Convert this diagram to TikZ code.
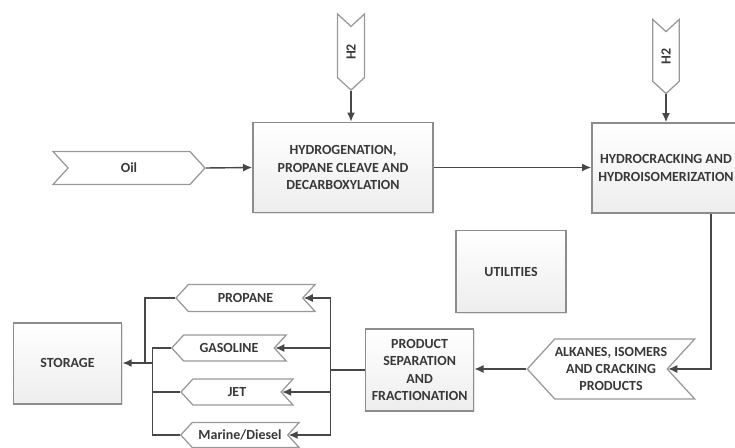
\documentclass[tikz,border=0pt]{standalone}
\usepackage{fontspec}
\setmainfont{Carlito}
\usetikzlibrary{arrows.meta, shapes.symbols, shadows}

\begin{document}
\begin{tikzpicture}[
  x=0.025cm, y=-0.025cm,
  font=\bfseries\fontsize{9.9}{12.3}\selectfont,
  bloc/.style={
    draw=black!45, line width=1.1pt, top color=white, bottom color=black!7,
    drop shadow={shadow xshift=0.8pt, shadow yshift=-0.8pt, opacity=0.2},
    align=center, text=black!78, inner sep=2pt
  },
  chevron/.style={
    signal, draw=black!40, line width=0.9pt, fill=white,
    signal pointer angle=95, align=center, text=black!78, inner sep=0pt
  },
  versdroite/.style={chevron, signal to=east, signal from=west},
  versgauche/.style={chevron, signal to=west, signal from=east},
  versbas/.style={chevron, rotate=90, signal to=west, signal from=east},
  fleche/.style={
    -{Latex[length=2.3mm, width=2mm]},
    line width=1pt, draw=black!72
  },
  ligne/.style={line width=1pt, draw=black!72}
]
  \useasboundingbox (0,0) rectangle (735,447);
  \clip (0,0) rectangle (735,447);

  % Etapes du procede
  \node[bloc, minimum width=4.5cm, minimum height=2.25cm] (hydro) at (343,167.5)
    {HYDROGENATION,\\PROPANE CLEAVE AND\\DECARBOXYLATION};
  \node[bloc, minimum width=3.7cm, minimum height=2.25cm] (craq) at (666,168)
    {HYDROCRACKING AND\\HYDROISOMERIZATION};
  \node[bloc, minimum width=2.75cm, minimum height=2.05cm] (util) at (511,271.7) {UTILITIES};
  \node[bloc, minimum width=2.7cm, minimum height=2.05cm] (sep) at (419.6,370)
    {PRODUCT\\SEPARATION\\AND\\FRACTIONATION};
  \node[bloc, minimum width=2.71cm, minimum height=2.03cm] (stock) at (67.5,363.4) {STORAGE};

  % Entrees
  \node[versdroite, minimum width=3.8cm, minimum height=0.825cm] (huile) at (129,168) {Oil};
  \node[versbas, minimum width=1.9cm, minimum height=0.675cm] (hA) at (351,52) {H2};
  \node[versbas, minimum width=1.85cm, minimum height=0.66cm] (hB) at (666,56.5) {H2};

  % Sorties
  \node[versgauche, minimum width=3.95cm, minimum height=1.5cm] (alc) at (611,369)
    {ALKANES, ISOMERS\\AND CRACKING\\PRODUCTS};
  \node[versgauche, minimum width=3.475cm, minimum height=0.67cm] (propane) at (245.5,298) {PROPANE};
  \node[versgauche, minimum width=2.86cm, minimum height=0.65cm] (essence) at (229,348) {GASOLINE};
  \node[versgauche, minimum width=2.8cm, minimum height=0.65cm] (jet) at (237,392) {JET};
  \node[versgauche, minimum width=2.96cm, minimum height=0.63cm] (diesel) at (240,435) {Marine/Diesel};

  \coordinate (busD) at (330.7,370);
  \coordinate (busG) at (145,363);
  \coordinate (busS) at (152.7,363);

  \draw[fleche] (huile.east) -- (hydro.west);
  \draw[fleche] (hA.west) -- (hA.west |- hydro.north);
  \draw[fleche] (hydro.east) -- (hydro.east -| craq.west);
  \draw[fleche] (hB.west) -- (craq.north);
  \draw[fleche] ([xshift=1.12cm]craq.south) |- (alc.east);
  \draw[fleche] (alc.west) -- (alc.west -| sep.east);

  % Repartition des coupes
  \draw[ligne] (sep.west |- busD) -- (busD);
  \draw[ligne] (busD |- propane.east) -- (busD |- diesel.east);
  \foreach \coupe in {propane, essence, jet, diesel} {
    \draw[fleche] (busD |- \coupe.east) -- (\coupe.east);
  }

  % Vers le stockage
  \draw[ligne] (propane.west) -| (busG);
  \draw[ligne] (essence.west) -| (busS |- diesel.west) -- (diesel.west);
  \draw[ligne] (jet.west) -- (busS |- jet.west);
  \draw[fleche] (busS) -- (busS -| stock.east);

\end{tikzpicture}
\end{document}
